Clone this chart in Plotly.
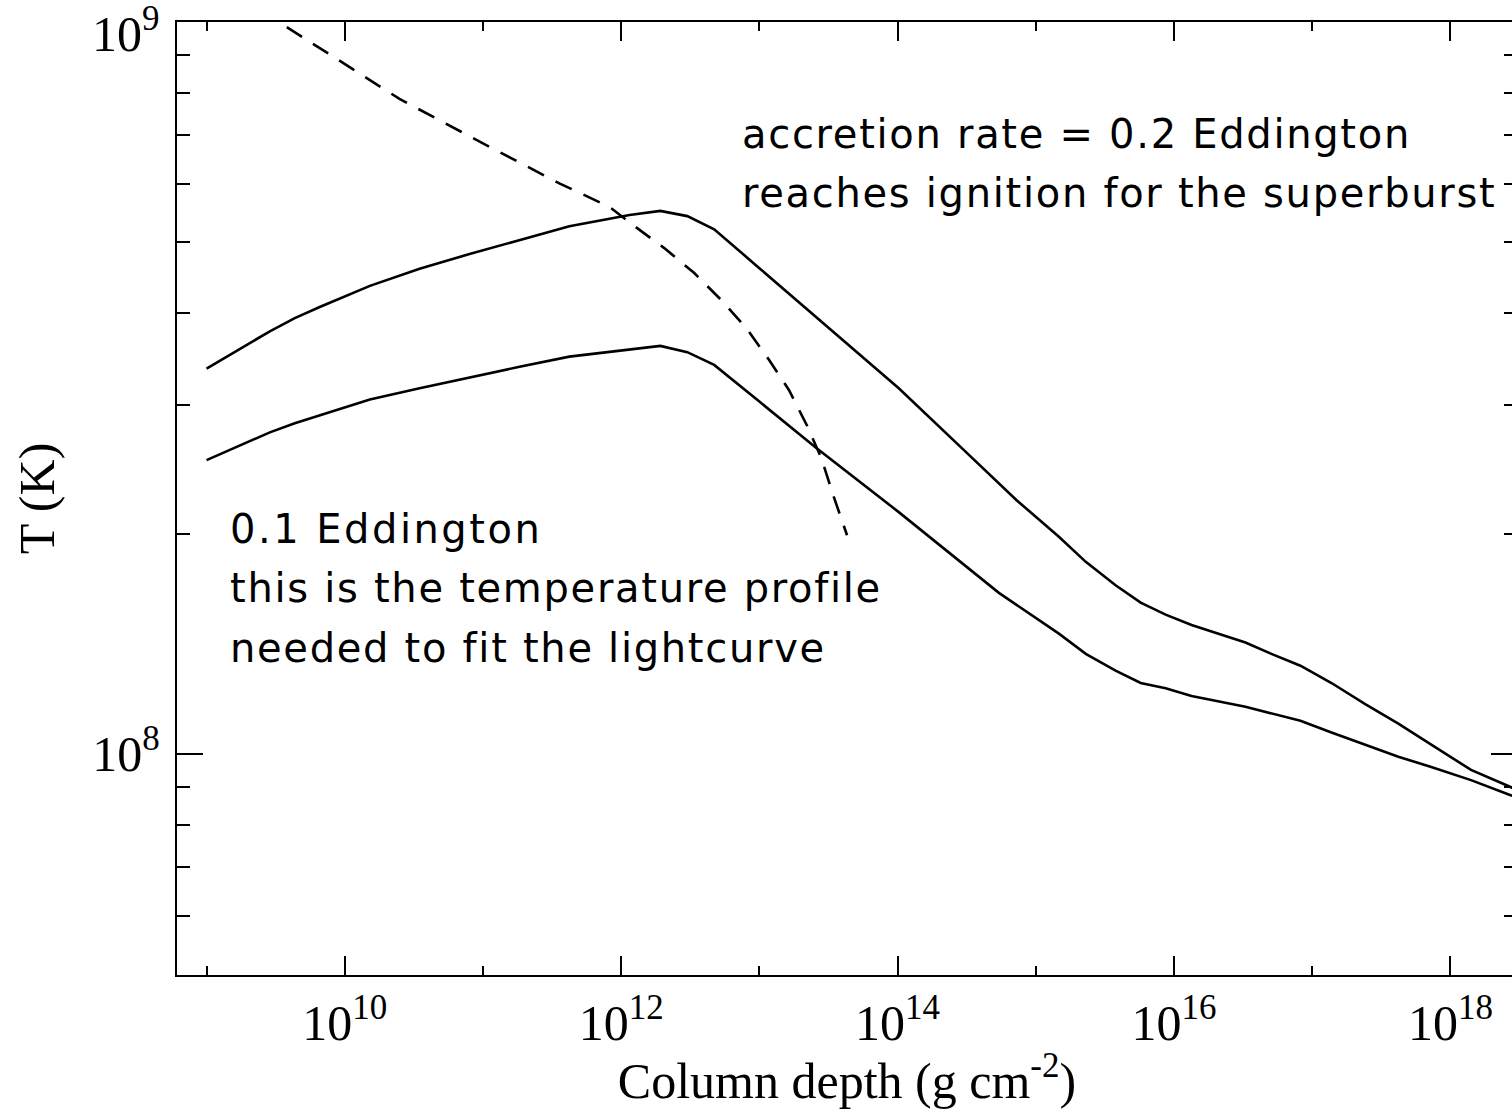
import plotly.graph_objects as go

# ---- data ----
# accretion rate 0.2 Eddington (upper solid)
depth_02 = [1.0e9, 1.74e9, 2.87e9, 4.35e9, 6.59e9, 1.52e10, 3.48e10, 8.0e10, 1.84e11, 4.22e11,
            1.15e12, 1.92e12, 3.01e12, 4.71e12, 1.0e13, 1.94e13, 1.02e14, 2.78e14, 7.30e14,
            1.47e15, 2.30e15, 3.78e15, 5.74e15, 8.70e15, 1.34e16, 3.29e16, 5.07e16, 8.22e16,
            1.38e17, 2.42e17, 4.20e17, 7.27e17, 1.41e18, 2.70e18, 3.0e18]
temp_02 = [3.36e8, 3.57e8, 3.78e8, 3.94e8, 4.08e8, 4.36e8, 4.60e8, 4.82e8, 5.04e8, 5.26e8,
           5.45e8, 5.52e8, 5.43e8, 5.21e8, 4.61e8, 4.14e8, 3.16e8, 2.64e8, 2.22e8,
           1.98e8, 1.83e8, 1.70e8, 1.61e8, 1.55e8, 1.50e8, 1.42e8, 1.37e8, 1.32e8,
           1.25e8, 1.17e8, 1.10e8, 1.03e8, 9.51e7, 9.02e7, 8.93e7]

# accretion rate 0.1 Eddington (lower solid)
depth_01 = [1.0e9, 1.74e9, 2.87e9, 4.35e9, 6.59e9, 1.52e10, 3.48e10, 8.0e10, 1.84e11, 4.22e11,
            1.15e12, 1.92e12, 3.01e12, 4.71e12, 1.0e13, 2.57e13, 1.02e14, 5.41e14, 1.47e15,
            2.30e15, 3.78e15, 5.74e15, 8.70e15, 1.34e16, 3.29e16, 8.22e16, 1.38e17, 2.42e17,
            4.20e17, 7.27e17, 1.41e18, 2.70e18, 3.0e18]
temp_01 = [2.52e8, 2.64e8, 2.75e8, 2.83e8, 2.90e8, 3.05e8, 3.16e8, 3.27e8, 3.38e8, 3.49e8,
           3.57e8, 3.61e8, 3.54e8, 3.40e8, 3.03e8, 2.62e8, 2.14e8, 1.66e8, 1.46e8,
           1.37e8, 1.30e8, 1.25e8, 1.23e8, 1.20e8, 1.16e8, 1.11e8, 1.07e8, 1.03e8,
           9.91e7, 9.60e7, 9.21e7, 8.79e7, 8.73e7]

# ignition curve (dashed)
depth_ign = [3.81e9, 9.20e9, 2.49e10, 1.32e11, 3.57e11, 8.22e11, 1.25e12, 2.05e12, 3.38e12,
             5.30e12, 8.03e12, 1.18e13, 1.64e13, 2.21e13, 2.80e13, 3.47e13, 4.31e13]
temp_ign = [9.84e8, 8.84e8, 7.85e8, 6.64e8, 6.02e8, 5.59e8, 5.26e8, 4.91e8, 4.54e8,
            4.17e8, 3.82e8, 3.45e8, 3.14e8, 2.81e8, 2.54e8, 2.24e8, 1.99e8]

x_major = [1e10, 1e12, 1e14, 1e16, 1e18]
x_major_text = ["10<sup>10</sup>", "10<sup>12</sup>", "10<sup>14</sup>", "10<sup>16</sup>", "10<sup>18</sup>"]
x_minor = [1e9, 1e11, 1e13, 1e15, 1e17]
y_major = [1e8, 1e9]
y_major_text = ["10<sup>8</sup>", ""]
y_minor = [6e7, 7e7, 8e7, 9e7, 2e8, 3e8, 4e8, 5e8, 6e8, 7e8, 8e8, 9e8]

SERIF = "Liberation Serif"
SANS = "DejaVu Sans"
LW = 2.6

fig = go.Figure()
fig.add_trace(go.Scatter(x=depth_02, y=temp_02, mode="lines",
                         line=dict(color="black", width=LW), hoverinfo="skip"))
fig.add_trace(go.Scatter(x=depth_01, y=temp_01, mode="lines",
                         line=dict(color="black", width=LW), hoverinfo="skip"))
fig.add_trace(go.Scatter(x=depth_ign, y=temp_ign, mode="lines",
                         line=dict(color="black", width=LW, dash="18px,13px"), hoverinfo="skip"))

fig.update_layout(
    width=1520, height=1109,
    margin=dict(l=177, r=1, t=22, b=134),
    paper_bgcolor="white", plot_bgcolor="white",
    showlegend=False,
)

fig.update_xaxes(
    type="log", range=[8.7862, 18.482],
    showline=True, linecolor="black", linewidth=2.4, mirror="ticks",
    showgrid=False, zeroline=False,
    ticks="inside", ticklen=19, tickwidth=2.2, tickcolor="black",
    tickmode="array", tickvals=x_major, ticktext=x_major_text,
    tickfont=dict(family=SERIF, size=50, color="black"),
    ticklabelstandoff=3,
    minor=dict(tickmode="array", tickvals=x_minor, ticks="inside", ticklen=9,
               tickwidth=2.2, tickcolor="black", showgrid=False),
    title=dict(text="Column depth (g cm<sup>-2</sup>)",
               font=dict(family=SERIF, size=50, color="black"), standoff=2),
)

fig.update_yaxes(
    type="log", range=[7.698, 9.0],
    showline=True, linecolor="black", linewidth=2.4, mirror="ticks",
    showgrid=False, zeroline=False,
    ticks="inside", ticklen=26, tickwidth=2.2, tickcolor="black",
    tickmode="array", tickvals=y_major, ticktext=y_major_text,
    tickfont=dict(family=SERIF, size=50, color="black"),
    ticklabelstandoff=5,
    minor=dict(tickmode="array", tickvals=y_minor, ticks="inside", ticklen=13,
               tickwidth=2.2, tickcolor="black", showgrid=False),
    title=dict(text="T (K)", font=dict(family=SERIF, size=50, color="black"), standoff=22),
)

# top label of the y axis (10^9), shifted below the frame corner as in the reference
fig.add_annotation(text="10<sup>9</sup>", xref="paper", yref="y", x=0, y=9,
                   xanchor="right", yanchor="middle", xshift=-15, yshift=-8,
                   showarrow=False, font=dict(family=SERIF, size=50, color="black"))

LS = "letter-spacing:1.7px"
notes = [
    ("accretion rate = 0.2 Eddington", 0.4210, 0.8825, LS),
    ("reaches ignition for the superburst", 0.4210, 0.8206, LS),
    ("0.1 Eddington", 0.0390, 0.4680, "letter-spacing:2.5px"),
    ("this is the temperature profile", 0.0390, 0.4061, LS),
    ("needed to fit the lightcurve", 0.0390, 0.3431, LS),
]
for txt, px, py, st in notes:
    fig.add_annotation(text=f'<span style="{st}">{txt}</span>', xref="paper", yref="paper",
                       x=px, y=py, xanchor="left", yanchor="middle", showarrow=False,
                       borderpad=0, font=dict(family=SANS, size=40, color="black"))

fig.write_html(
    "out.html",
    config={"displayModeBar": False},
    post_script="document.documentElement.style.overflow='hidden';document.body.style.overflow='hidden';",
)
